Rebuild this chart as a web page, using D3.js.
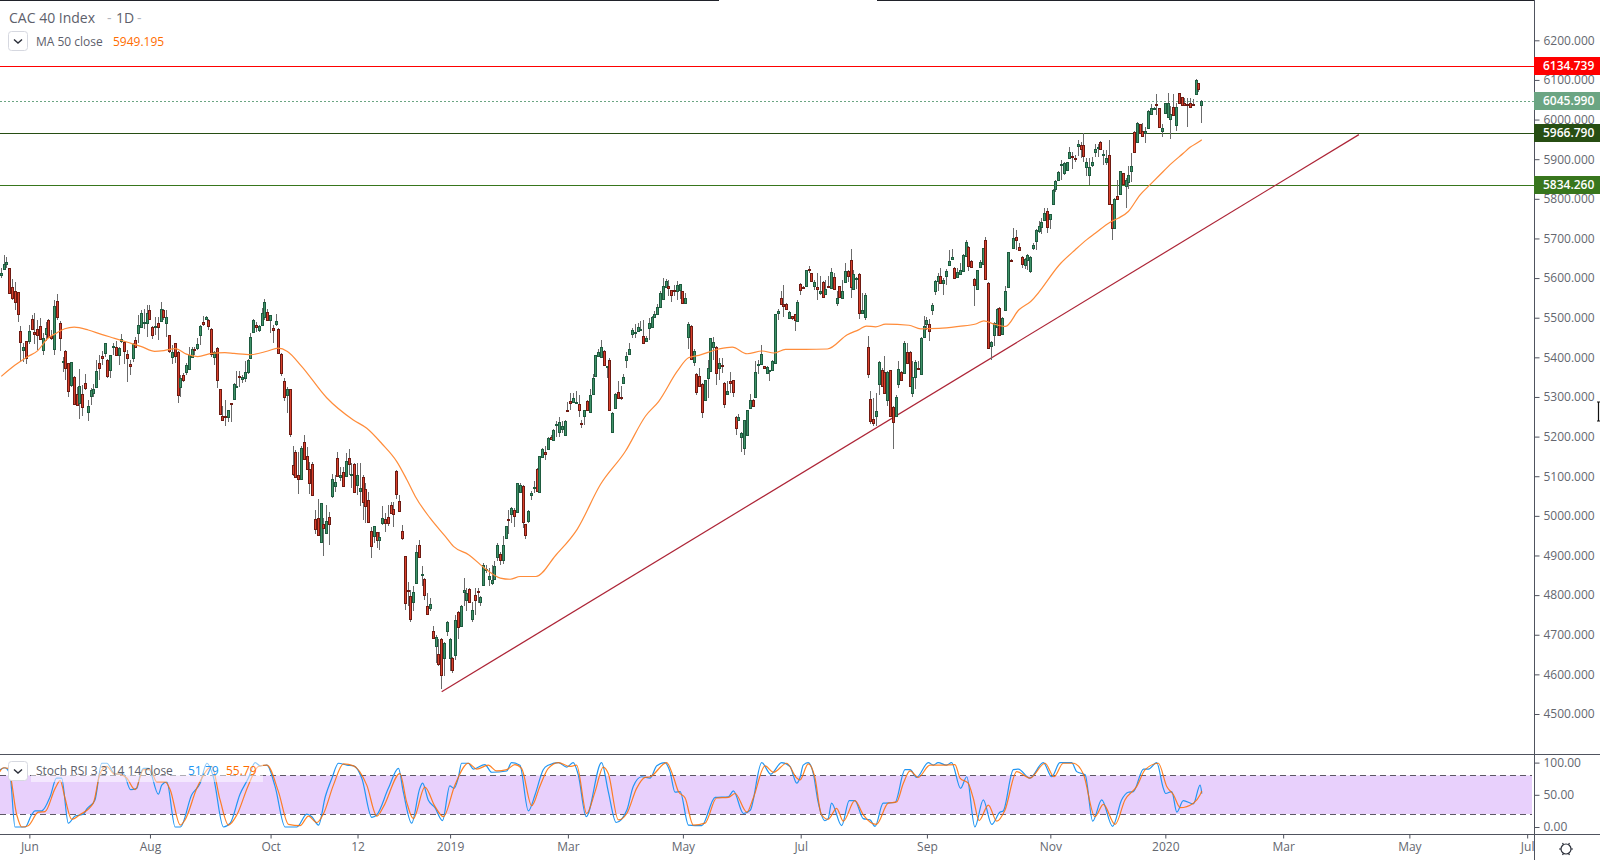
<!DOCTYPE html>
<html lang="en">
<head>
<meta charset="UTF-8">
<title>CAC 40 Index 1D</title>
<style>
    html, body { margin: 0; padding: 0; background: #fff; overflow: hidden; }
    svg { display: block; }
    text { font-family: "Open Sans", Arial, sans-serif; fill: #5d606b; }
    .axis text { font-size: 12px; fill: #64676f; }
    .axis path, .axis line { stroke: #50535e; }
    .tag { font-size: 12px; font-weight: 600; fill: #fff; }
</style>
</head>
<body>
<script src="https://d3js.org/d3.v7.min.js"></script>
<script>
// daily candles
const opens = [
5609,5624,5636,5625,5577,5568,5564,5466,5420,5440,
5440,5496,5463,5471,5480,5417,5457,5494,5455,5420,
5541,5486,5388,5417,5385,5330,5350,5307,5284,5307,
5335,5263,5301,5311,5324,5385,5403,5410,5393,5367,
5427,5427,5405,5441,5439,5408,5383,5398,5443,5462,
5476,5488,5486,5519,5476,5476,5486,5491,5519,5486,
5456,5402,5436,5413,5324,5355,5362,5370,5400,5420,
5422,5455,5489,5496,5494,5471,5400,5423,5321,5253,
5252,5249,5284,5294,5326,5352,5346,5347,5363,5398,
5463,5481,5468,5481,5501,5514,5494,5473,5483,5471,
5408,5340,5304,5320,5128,5161,5104,5093,5186,5151,
5118,5131,4992,4995,4933,4979,4958,4997,5049,5075,
5145,5099,5110,5099,5145,5103,5130,5077,5062,5098,
5067,5040,4961,4950,4959,4939,4982,4992,4997,5027,
5017,5113,5037,4961,4898,4813,4798,4782,4832,4926,
4852,4840,4772,4767,4709,4671,4651,4689,4641,4709,
4641,4641,4648,4757,4721,4809,4788,4815,4740,4800,
4811,4782,4825,4864,4840,4830,4840,4896,4904,4888,
4944,4992,5003,5014,5009,5061,5076,4980,4987,5052,
5071,5119,5060,5149,5162,5169,5199,5192,5230,5212,
5220,5205,5267,5290,5288,5287,5283,5235,5254,5290,
5262,5307,5352,5403,5403,5416,5378,5394,5212,5272,
5313,5300,5335,5393,5408,5458,5462,5468,5471,5454,
5441,5474,5478,5502,5509,5527,5547,5578,5580,5570,
5570,5567,5570,5567,5537,5451,5479,5389,5358,5353,
5333,5292,5347,5365,5426,5426,5373,5381,5336,5308,
5341,5343,5250,5242,5200,5171,5205,5272,5293,5300,
5383,5383,5378,5361,5367,5370,5386,5511,5550,5534,
5535,5499,5504,5509,5492,5585,5577,5579,5623,5613,
5579,5577,5562,5590,5559,5580,5574,5603,5537,5580,
5550,5589,5618,5646,5572,5598,5610,5512,5501,5426,
5295,5245,5252,5332,5368,5363,5293,5368,5275,5253,
5333,5363,5361,5414,5414,5310,5351,5374,5357,5451,
5483,5484,5520,5569,5593,5605,5588,5605,5633,5648,
5625,5603,5610,5618,5656,5678,5643,5598,5572,5628,
5635,5696,5588,5430,5457,5477,5525,5458,5520,5577,
5646,5676,5704,5678,5653,5633,5646,5618,5677,5692,
5719,5728,5747,5769,5748,5786,5823,5846,5887,5866,
5871,5902,5907,5902,5933,5937,5935,5879,5859,5884,
5917,5928,5943,5910,5894,5910,5786,5726,5807,5813,
5865,5832,5842,5870,5968,5944,5988,5970,5964,5978,
6012,6026,6038,6028,5970,6016,6006,6001,6031,5986,
6066,6056,6041,6039,6041,6039,6065,6091,6037];

const highs = [
5625,5658,5652,5625,5597,5591,5566,5479,5436,5441,
5482,5507,5511,5494,5499,5461,5490,5496,5469,5545,
5559,5492,5402,5419,5385,5389,5352,5326,5370,5331,
5357,5293,5322,5333,5394,5406,5415,5436,5396,5405,
5436,5440,5427,5459,5441,5419,5394,5436,5452,5507,
5520,5521,5532,5532,5479,5503,5503,5539,5522,5520,
5457,5431,5437,5415,5356,5360,5385,5427,5426,5426,
5448,5482,5504,5504,5496,5473,5415,5426,5321,5276,
5293,5268,5284,5335,5366,5366,5356,5392,5395,5461,
5496,5490,5482,5524,5546,5521,5507,5482,5510,5473,
5410,5347,5326,5321,5177,5165,5161,5177,5205,5175,
5135,5135,5016,5042,5032,4995,5028,5009,5105,5103,
5161,5124,5124,5158,5169,5134,5133,5133,5133,5103,
5082,5061,4973,4975,4960,4959,5025,5007,5028,5036,
5036,5116,5053,4977,4899,4832,4814,4822,4927,4938,
4874,4842,4805,4793,4721,4700,4688,4692,4681,4734,
4692,4644,4751,4759,4775,4843,4818,4819,4782,4818,
4818,4798,4881,4877,4868,4877,4885,4931,4910,4950,
4975,5014,5022,5019,5082,5084,5078,4980,5014,5063,
5088,5121,5152,5172,5176,5199,5205,5218,5239,5250,
5239,5242,5287,5310,5310,5316,5305,5243,5268,5292,
5319,5359,5407,5421,5445,5418,5379,5399,5262,5310,
5341,5327,5357,5413,5435,5474,5483,5487,5491,5494,
5455,5499,5504,5516,5535,5568,5600,5598,5596,5571,
5583,5592,5586,5568,5562,5490,5481,5420,5360,5373,
5334,5344,5394,5450,5452,5428,5399,5399,5337,5340,
5362,5344,5252,5256,5211,5243,5268,5307,5294,5391,
5393,5431,5379,5379,5369,5393,5510,5522,5567,5583,
5536,5516,5505,5510,5544,5588,5579,5621,5631,5614,
5596,5613,5606,5592,5596,5604,5625,5614,5567,5581,
5596,5638,5620,5673,5621,5602,5613,5562,5562,5455,
5315,5298,5310,5390,5373,5404,5365,5369,5277,5306,
5390,5365,5441,5436,5415,5390,5394,5390,5451,5504,
5502,5497,5537,5594,5613,5625,5600,5623,5670,5673,
5627,5625,5638,5660,5697,5680,5645,5599,5621,5646,
5677,5704,5589,5441,5488,5524,5526,5501,5581,5667,
5648,5726,5722,5688,5655,5650,5660,5655,5688,5723,
5743,5751,5776,5776,5762,5824,5848,5869,5897,5894,
5894,5932,5917,5911,5949,5944,5965,5902,5902,5905,
5939,5939,5946,5922,5922,5949,5787,5802,5848,5871,
5866,5852,5883,5915,5970,5995,5989,5991,5981,6023,
6038,6031,6065,6030,5989,6043,6066,6033,6065,6041,
6068,6058,6054,6054,6054,6051,6103,6093,6049];

const lows = [
5601,5622,5625,5562,5545,5520,5490,5387,5389,5383,
5434,5468,5434,5419,5444,5405,5440,5451,5444,5406,
5494,5417,5364,5343,5301,5326,5280,5276,5244,5251,
5318,5240,5280,5300,5322,5343,5381,5400,5347,5347,
5406,5404,5381,5436,5383,5339,5356,5389,5423,5436,
5473,5471,5452,5494,5447,5457,5444,5489,5494,5452,
5410,5383,5385,5284,5301,5339,5356,5368,5398,5406,
5419,5431,5478,5494,5468,5402,5381,5322,5258,5241,
5226,5238,5238,5293,5326,5326,5335,5339,5358,5396,
5461,5465,5465,5479,5494,5492,5461,5437,5479,5409,
5352,5289,5259,5200,5101,5095,5056,5091,5141,5116,
5056,5051,4955,4948,4932,4898,4956,4927,5045,5059,
5098,5087,5072,5098,5102,5070,5057,5053,5024,4990,
4983,4982,4893,4931,4919,4914,4977,4958,4975,5004,
4973,5042,5011,4940,4762,4773,4731,4759,4830,4893,
4822,4788,4751,4759,4689,4629,4622,4563,4595,4696,
4608,4604,4637,4689,4720,4772,4759,4780,4731,4751,
4780,4772,4824,4856,4822,4826,4839,4885,4877,4878,
4941,4955,4982,4972,5007,5058,4970,4941,4983,5040,
5058,5061,5058,5147,5142,5168,5193,5190,5200,5200,
5210,5203,5262,5266,5285,5285,5249,5221,5229,5267,
5260,5305,5351,5401,5401,5378,5347,5264,5211,5270,
5294,5292,5334,5374,5406,5449,5449,5467,5470,5435,
5439,5445,5477,5500,5508,5525,5546,5576,5556,5540,
5556,5544,5546,5535,5535,5420,5394,5379,5306,5326,
5247,5289,5298,5363,5394,5331,5344,5361,5272,5306,
5310,5299,5204,5241,5161,5153,5201,5270,5275,5299,
5357,5382,5371,5359,5340,5368,5384,5495,5533,5502,
5520,5497,5495,5466,5490,5557,5572,5578,5613,5590,
5571,5544,5558,5550,5557,5575,5572,5571,5530,5551,
5548,5588,5589,5550,5571,5572,5497,5510,5495,5348,
5231,5226,5226,5306,5326,5309,5277,5251,5168,5252,
5323,5341,5359,5384,5326,5299,5320,5369,5356,5449,
5470,5441,5508,5558,5567,5585,5558,5583,5631,5646,
5598,5600,5609,5616,5654,5617,5626,5530,5571,5626,
5634,5596,5422,5394,5428,5453,5455,5457,5518,5575,
5641,5674,5672,5669,5625,5623,5621,5613,5671,5671,
5713,5711,5745,5715,5723,5784,5818,5844,5848,5860,
5870,5900,5875,5894,5908,5902,5894,5858,5835,5881,
5905,5905,5923,5886,5886,5784,5695,5724,5797,5812,
5834,5776,5824,5842,5915,5943,5964,5956,5940,5976,
6012,6024,6012,5979,5957,6014,6005,5951,6009,5971,
6039,6034,6034,5980,6028,6036,6064,6070,5992];

const closes = [
5614,5636,5640,5563,5548,5541,5509,5437,5427,5398,
5466,5471,5457,5457,5446,5448,5473,5452,5450,5529,
5501,5448,5390,5373,5314,5388,5282,5279,5327,5273,
5322,5277,5317,5320,5365,5372,5397,5436,5352,5405,
5429,5407,5423,5446,5417,5397,5378,5433,5426,5481,
5511,5489,5511,5496,5457,5478,5476,5521,5501,5501,
5415,5414,5402,5305,5347,5342,5380,5405,5420,5418,
5433,5478,5483,5501,5478,5407,5413,5342,5259,5244,
5251,5267,5283,5332,5328,5351,5351,5363,5393,5451,
5494,5476,5478,5511,5539,5494,5506,5468,5491,5410,
5360,5300,5320,5206,5105,5097,5095,5171,5143,5117,
5083,5053,4967,4952,5032,4969,4988,4979,5093,5085,
5099,5103,5075,5138,5130,5105,5059,5103,5070,5034,
5024,4984,4923,4974,4939,4946,4994,4982,4982,5007,
5004,5055,5012,4943,4780,4811,4741,4808,4909,4895,
4853,4799,4752,4777,4691,4694,4625,4598,4679,4732,
4689,4610,4737,4720,4772,4813,4805,4783,4762,4788,
4810,4795,4875,4867,4848,4838,4873,4926,4888,4926,
4974,4991,5019,4998,5082,5078,4984,4951,5012,5058,
5073,5063,5151,5169,5158,5197,5194,5217,5232,5237,
5227,5240,5265,5285,5298,5288,5268,5232,5268,5268,
5305,5348,5406,5414,5427,5380,5379,5269,5260,5308,
5299,5298,5351,5404,5421,5469,5464,5477,5472,5436,
5449,5487,5502,5509,5527,5562,5580,5593,5575,5557,
5568,5583,5585,5537,5550,5484,5396,5416,5312,5327,
5262,5343,5373,5449,5439,5361,5386,5378,5283,5315,
5336,5313,5221,5250,5210,5242,5268,5293,5277,5363,
5384,5409,5373,5376,5368,5392,5509,5517,5535,5529,
5522,5515,5499,5494,5540,5569,5574,5620,5620,5592,
5590,5572,5567,5552,5572,5577,5615,5572,5550,5552,
5567,5618,5605,5577,5610,5600,5512,5520,5557,5358,
5240,5235,5265,5388,5327,5310,5363,5252,5236,5300,
5371,5343,5436,5386,5327,5351,5388,5371,5449,5479,
5494,5467,5532,5593,5605,5587,5595,5618,5643,5653,
5600,5615,5620,5658,5691,5630,5628,5583,5620,5640,
5676,5598,5424,5439,5487,5522,5457,5499,5567,5666,
5643,5701,5696,5671,5635,5648,5658,5653,5684,5721,
5732,5741,5764,5728,5761,5822,5844,5867,5889,5890,
5892,5918,5906,5901,5938,5928,5907,5892,5880,5892,
5925,5930,5925,5912,5904,5786,5726,5799,5799,5870,
5836,5847,5860,5882,5918,5991,5965,5958,5970,6021,
6028,6028,6035,5981,5978,6041,6041,6013,6011,6031,
6041,6036,6036,6038,6030,6038,6101,6076,6046];

// MA 50, bar number and value at the points
const maBars = [1,5.8,10.5,14,17.6,20.6,23.6,27,32,36.7,41.4,46,51,55.7,59,63,67,71,76,80.7,84,90,96,99.7,103,108,117,126.5,131.3,136.7,142,145.6,148.6,153.9,159.3,162.2,167.6,174,178.9,182.4,186,191.6,198.6,206.3,214.6,223.5,230.7,235.4,242,246,249.7,256.8,261.6,266.9,272.3,276.4,280.6,287.7,295.5,302.6,306.8,309.4,312.7,316.3,324.6,328.8,335.3,342.4,348.4,351.3,354.9,359,363.8,368,378.8,383.8,388,391,396.3,399.2,402.8,407,410.5,414,418.3,422.4,424.8,428.4,429];
const maValues = [5352,5380,5402,5417,5448,5461,5472,5476,5469,5458,5448,5438,5427,5415,5417,5422,5408,5402,5410,5412,5410,5407,5416,5423,5415,5378,5298,5242,5221,5182,5137,5091,5049,4994,4948,4923,4902,4864,4843,4840,4847,4847,4900,4966,5079,5163,5252,5289,5365,5399,5405,5421,5426,5409,5416,5411,5420,5420,5421,5457,5470,5479,5477,5484,5481,5472,5473,5478,5484,5492,5484,5478,5520,5541,5638,5671,5697,5713,5741,5751,5768,5810,5835,5860,5890,5915,5930,5946,5949.195];

// support / resistance levels and the rising trend line
const levels = [6134.739, 5966.79, 5834.26];
const levelColors = ["#ff0000", "#274e13", "#38761d"];
const lastPrice = 6045.99;
const trendBars = [158, 485];
const trendValues = [4556, 5962];

// Stoch RSI K and D at the points
const kBars = [0.5,2.3,4.1,5.9,9.5,11.8,13,15.4,18.4,20.7,22.5,24.9,27.3,30.3,31.5,34.4,36.8,38.6,41.6,44.5,47.1,49.3,50.5,51.7,53.5,57,58.2,60,63,64.8,68.9,71.9,74.3,76.6,80.2,82.6,86.1,89.1,91.5,93.3,95.7,98.6,102.2,106.4,109.9,111.7,114.1,116.5,118.9,121.2,124.2,126.6,129.5,133.1,134.9,139,142.6,144.3,147.3,150.2,151.2,153.2,155.6,158.3,160.9,162.4,163.9,165.1,167.5,169.3,173.4,175.8,181.2,182.9,185.9,188.9,191.3,194.2,196,199.6,202.6,204.9,206.7,209.5,215,217.4,220.2,224,226.3,229.3,232.3,234.7,237.6,239.4,241.2,243,246,250.7,255.5,260.2,262,265.6,268,272.1,275.3,279.2,282.2,284.6,285.7,286.9,288.7,290.5,292.2,294.6,295.8,297,300.6,303.3,305.3,308.3,310.7,312.5,315.4,319.6,323.2,325,327.3,331.5,333.3,335,338,339.8,343,345.2,348.1,351.1,354.1,357,358.2,361.8,363.6,367.7,372.5,375.5,378.4,382.6,384.4,387.4,390.1,393.3,397.2,400.4,402.8,404.6,408.2,410,412.9,415.3,416.1,418.3,420.1,422.4,426,428.4,429];
const kValues = [89,92,81,0,0,19,25,25,47,76,76,6,17,20,28,42,99,99,82,83,58,60,81,91,91,51,65,70,0,0,50,68,99,78,0,6,51,76,100,95,96,63,0,0,20,16,3,47,76,99,96,95,76,15,19,60,91,55,6,60,68,42,30,10,64,60,76,99,99,90,97,85,87,100,96,25,50,89,96,100,93,100,81,16,100,55,7,26,63,78,76,95,100,86,54,55,3,2,46,47,56,21,26,100,82,100,94,68,76,96,100,83,39,10,13,37,2,41,41,13,11,1,37,38,89,89,77,100,96,100,96,100,60,78,0,42,4,23,25,89,90,76,100,78,100,100,86,81,9,42,1,42,54,55,90,90,100,60,52,55,23,41,36,65,51.79];
const dBars = [0.5,1.7,3.5,6.5,8.3,10.6,14.2,16.6,20.2,22,23.7,26.1,29,33.8,36.2,38.6,41,43.3,45.7,48.7,51.7,54.1,56.4,59.4,61.2,64.8,66.5,70.7,72.5,76,79,82,85,89.1,92.7,95.7,99.8,103.4,107.5,110.5,113.5,115.9,119.4,123,126.6,131.3,134.9,137.3,143.1,145.5,147.9,152,155.6,158.6,162.7,167.5,170.5,174.6,177.6,181.2,184.1,186.5,190.1,193,196,199.6,203.7,206.1,209.7,212.7,215.6,217.4,221,224,227.5,230.5,232.3,238.2,240.6,242.4,244.8,247.7,251.9,256,260.2,262.6,266.8,269.1,273.3,276.3,281,284.6,285.7,288.7,291,293.4,295.8,298.8,301.2,305.3,308.3,313,317.2,320.2,322.6,325,327.9,332.1,336.8,341,342.8,345.7,347.5,349.6,352.9,355.9,358.8,363,367.7,373.1,376.3,379.6,383.2,386.8,390.9,393.9,398.1,401.6,405.8,408.8,413.5,416.5,418.9,421.3,426,428.4,429];
const dValues = [86,92,91,19,0,2,23,24,60,72,45,12,19,37,83,94,83,82,76,58,89,89,70,70,58,3,11,60,76,94,42,3,19,65,94,96,55,4,2,17,7,21,65,98,95,65,17,32,83,39,13,62,32,16,65,99,90,96,87,89,97,91,33,63,91,100,94,96,21,55,93,83,11,21,60,77,78,100,78,55,45,3,6,45,46,52,23,45,95,85,99,76,73,98,78,19,12,29,9,41,19,4,37,39,68,87,77,96,96,97,76,68,45,10,34,9,26,86,76,99,78,99,99,82,16,35,4,42,63,89,99,63,50,30,37,50,55.79];

// axis labels
const priceTicks = d3.range(4500, 6201, 100);
const stochTicks = [0, 50, 100];
const timeLabels = ["Jun","Aug","Oct","12","2019","Mar","May","Jul","Sep","Nov","2020","Mar","May","Jul"];
const timeBars = [11,54,97,128,161,203,244,286,331,375,416,458,503,545];

const width = 1600, height = 860;
const axisX = 1534, sepY = 754, bottomY = 834;
const inkAxis = "#50535e";

const x = d3.scaleLinear().domain([1, 429]).range([1.3, 1201.8]);
const y = d3.scaleLinear().domain([4500, 6200]).range([714, 40.3]);
const yStoch = d3.scaleLinear().domain([0, 100]).range([827, 762.6]);

const svg = d3.select("body").append("svg")
    .attr("width", width).attr("height", height);

svg.append("clipPath").attr("id", "mainClip").append("rect")
    .attr("width", axisX).attr("height", sepY);
svg.append("clipPath").attr("id", "stochClip").append("rect")
    .attr("y", sepY).attr("width", axisX).attr("height", bottomY - sepY);
svg.append("clipPath").attr("id", "timeClip").append("rect")
    .attr("y", bottomY).attr("width", axisX).attr("height", height - bottomY);

// price pane
const main = svg.append("g").attr("clip-path", "url(#mainClip)");

main.selectAll(".level").data(levels).enter().append("line")
    .attr("x1", 0).attr("x2", axisX)
    .attr("y1", d => Math.round(y(d)) + 0.5).attr("y2", d => Math.round(y(d)) + 0.5)
    .attr("stroke", (d, i) => levelColors[i]);

main.append("line")
    .attr("x1", 0).attr("x2", axisX)
    .attr("y1", Math.round(y(lastPrice)) + 0.5).attr("y2", Math.round(y(lastPrice)) + 0.5)
    .attr("stroke", "#6ba583").attr("stroke-dasharray", "2,2");

main.append("line")
    .attr("x1", x(trendBars[0])).attr("y1", y(trendValues[0]))
    .attr("x2", x(trendBars[1])).attr("y2", y(trendValues[1]))
    .attr("stroke", "#ad2537").attr("stroke-width", 1.2);

const bars = main.selectAll(".bar").data(opens).enter().append("g")
    .attr("class", "bar").attr("shape-rendering", "crispEdges");

bars.append("line")
    .attr("x1", (d, i) => Math.floor(x(i + 1)) + 0.5)
    .attr("x2", (d, i) => Math.floor(x(i + 1)) + 0.5)
    .attr("y1", (d, i) => y(highs[i]))
    .attr("y2", (d, i) => y(lows[i]))
    .attr("stroke", "#6b6b6b");

bars.append("rect")
    .attr("x", (d, i) => Math.floor(x(i + 1)) - 0.5)
    .attr("width", 2)
    .attr("y", (d, i) => Math.round(y(Math.max(d, closes[i]))) + 0.5)
    .attr("height", (d, i) => Math.max(1, Math.round(Math.abs(y(d) - y(closes[i])))))
    .attr("fill", (d, i) => closes[i] >= d ? "#3f9268" : "#d8402c")
    .attr("stroke", (d, i) => closes[i] >= d ? "#1e5b3f" : "#6e1a12");

const maLine = d3.line()
    .x((d, i) => x(maBars[i]))
    .y(d => y(d))
    .curve(d3.curveMonotoneX);

main.append("path").datum(maValues)
    .attr("d", maLine)
    .attr("fill", "none").attr("stroke", "#ff8c3a").attr("stroke-width", 1.2);

// stochastic pane
const stoch = svg.append("g").attr("clip-path", "url(#stochClip)");

stoch.append("rect")
    .attr("x", 0).attr("width", axisX - 2)
    .attr("y", yStoch(80)).attr("height", yStoch(20) - yStoch(80))
    .attr("fill", "#e8d0fc");

stoch.selectAll(".band").data([80, 20]).enter().append("line")
    .attr("x1", 0).attr("x2", axisX - 2)
    .attr("y1", d => Math.round(yStoch(d)) + 0.5).attr("y2", d => Math.round(yStoch(d)) + 0.5)
    .attr("stroke", "#5d5866").attr("stroke-dasharray", "6,4");

function stochLine(barsList) {
    return d3.line()
        .x((d, i) => x(barsList[i]))
        .y(d => yStoch(d))
        .curve(d3.curveMonotoneX);
}

stoch.append("path").datum(kValues)
    .attr("d", stochLine(kBars))
    .attr("fill", "none").attr("stroke", "#2196f3").attr("stroke-width", 1.2);
stoch.append("path").datum(dValues)
    .attr("d", stochLine(dBars))
    .attr("fill", "none").attr("stroke", "#ff6d00").attr("stroke-width", 1.2).attr("opacity", 0.85);

// frame lines
svg.append("line").attr("x1", 0).attr("x2", 719).attr("y1", 0.5).attr("y2", 0.5).attr("stroke", "#20222a");
svg.append("line").attr("x1", 877).attr("x2", axisX).attr("y1", 0.5).attr("y2", 0.5).attr("stroke", "#20222a");
svg.append("line").attr("x1", 0).attr("x2", width).attr("y1", sepY + 0.5).attr("y2", sepY + 0.5).attr("stroke", inkAxis);
svg.append("line").attr("x1", 0).attr("x2", width).attr("y1", bottomY + 0.5).attr("y2", bottomY + 0.5).attr("stroke", inkAxis);

// axes
const priceAxis = svg.append("g")
    .attr("class", "axis")
    .attr("transform", `translate(${axisX + 0.5},0)`)
    .call(d3.axisRight(y).tickValues(priceTicks).tickFormat(d3.format(".3f")).tickSize(5).tickPadding(4));
priceAxis.select(".domain").attr("d", `M0,0V${height}`);

svg.append("g")
    .attr("class", "axis")
    .attr("transform", `translate(${axisX + 0.5},0)`)
    .call(d3.axisRight(yStoch).tickValues(stochTicks).tickFormat(d3.format(".2f")).tickSize(5).tickPadding(4))
    .select(".domain").remove();

const timeAxis = svg.append("g")
    .attr("class", "axis")
    .attr("clip-path", "url(#timeClip)")
    .attr("transform", `translate(0,0)`);

const timeG = timeAxis.append("g")
    .attr("transform", `translate(0,${bottomY + 0.5})`)
    .call(d3.axisBottom(x).tickValues(timeBars)
        .tickFormat((d, i) => timeLabels[i]).tickSize(4).tickPadding(4));
timeG.select(".domain").remove();

// price tags on the axis
const tags = [
    { v: levels[0], c: levelColors[0] },
    { v: lastPrice, c: "#6ba583" },
    { v: levels[1], c: levelColors[1] },
    { v: levels[2], c: levelColors[2] }
];
const tag = svg.selectAll(".tagBox").data(tags).enter().append("g")
    .attr("transform", d => `translate(${axisX},${Math.round(y(d.v))})`);
tag.append("rect")
    .attr("x", 0).attr("y", -9).attr("width", width - axisX).attr("height", 18)
    .attr("fill", d => d.c);
tag.append("text")
    .attr("class", "tag")
    .attr("x", 9).attr("y", 4)
    .text(d => d.v.toFixed(3));

// legends
function chevronButton(top) {
    svg.append("rect")
        .attr("x", 8.5).attr("y", top + 0.5).attr("width", 19).attr("height", 19).attr("rx", 3)
        .attr("fill", "#fff").attr("stroke", "#d6d8e0");
    svg.append("path")
        .attr("d", `M14,${top + 8.5}l4,3.5l4,-3.5`)
        .attr("fill", "none").attr("stroke", "#2a2e39").attr("stroke-width", 1.4);
}

svg.append("text").attr("x", 9).attr("y", 23).attr("font-size", 14).text("CAC 40 Index");
svg.append("text").attr("x", 107).attr("y", 23).attr("font-size", 14).attr("fill", "#b2b5be").style("fill", "#b2b5be").text("-");
svg.append("text").attr("x", 116).attr("y", 23).attr("font-size", 14).text("1D");
svg.append("text").attr("x", 137).attr("y", 23).attr("font-size", 14).style("fill", "#b2b5be").text("-");

chevronButton(31);
svg.append("text").attr("x", 36).attr("y", 46).attr("font-size", 12).text("MA 50 close");
svg.append("text").attr("x", 113).attr("y", 46).attr("font-size", 12).style("fill", "#ff6d00").text("5949.195");

svg.append("rect").attr("x", 31).attr("y", 761).attr("width", 232).attr("height", 21).attr("fill", "#fff").attr("opacity", 0.5);
chevronButton(761);
svg.append("text").attr("x", 36).attr("y", 775).attr("font-size", 12).text("Stoch RSI 3 3 14 14 close");
svg.append("text").attr("x", 188).attr("y", 775).attr("font-size", 12).style("fill", "#2196f3").text("51.79");
svg.append("text").attr("x", 226).attr("y", 775).attr("font-size", 12).style("fill", "#ff6d00").text("55.79");

// settings gear in the corner
const gearX = 1566, gearY = 849;
svg.append("circle").attr("cx", gearX).attr("cy", gearY).attr("r", 5)
    .attr("fill", "none").attr("stroke", "#2a2e39").attr("stroke-width", 1.2);
svg.selectAll(".ray").data(d3.range(0, 360, 60)).enter().append("line")
    .attr("transform", d => `translate(${gearX},${gearY}) rotate(${d})`)
    .attr("x1", 5).attr("x2", 7).attr("stroke", "#2a2e39").attr("stroke-width", 1.2);

// mouse pointer left on the price axis
svg.append("path")
    .attr("d", "M1597,402h3M1598.5,402v19M1597,421h3")
    .attr("fill", "none").attr("stroke", "#111").attr("stroke-width", 1.2);
</script>
</body>
</html>
